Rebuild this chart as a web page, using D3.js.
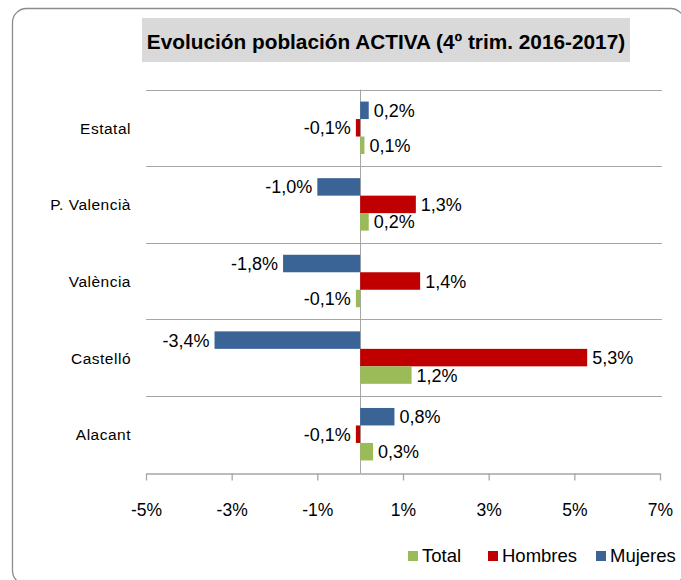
<!DOCTYPE html>
<html>
<head>
<meta charset="utf-8">
<script src="https://cdn.jsdelivr.net/npm/d3@7"></script>
<style>
  body { margin: 0; background: #fff; }
  svg { display: block; font-family: "Liberation Sans Narrow", "Liberation Sans", Arial, sans-serif; }
</style>
</head>
<body>
<div id="chart"></div>
<script>
// chart data
const CATEGORIES = ["Estatal", "P. Valencià", "València", "Castelló", "Alacant"];
const SERIES = ["Mujeres", "Hombres", "Total"];
const MUJERES = [0.2, -1.0, -1.8, -3.4, 0.8];
const HOMBRES = [-0.1, 1.3, 1.4, 5.3, -0.1];
const TOTAL = [0.1, 0.2, -0.1, 1.2, 0.3];
const TICKS = [-5, -3, -1, 1, 3, 5, 7];
const LEGEND_ORDER = ["Total", "Hombres", "Mujeres"];

const VALUES = { Mujeres: MUJERES, Hombres: HOMBRES, Total: TOTAL };

// frame constants
const FRAME_WIDTH = 681;
const FRAME_HEIGHT = 580;
const MARGINS = {left: 146, right: 21, top: 89.5, bottom: 107.5};
const VIS_WIDTH = FRAME_WIDTH - MARGINS.left - MARGINS.right;
const VIS_HEIGHT = FRAME_HEIGHT - MARGINS.top - MARGINS.bottom;

const COLORS = d3.scaleOrdinal()
  .domain(SERIES)
  .range(["#3a6496", "#c00000", "#9bbb59"]);

const FRAME = d3.select("#chart")
  .append("svg")
  .attr("width", FRAME_WIDTH)
  .attr("height", FRAME_HEIGHT);

// outer border (rounded, clipped at bottom right)
FRAME.append("rect")
  .attr("x", 12.5).attr("y", 8.5)
  .attr("width", 672).attr("height", 576)
  .attr("rx", 14)
  .attr("fill", "none")
  .attr("stroke", "#8c8c8c")
  .attr("stroke-width", 1.3);

// title
FRAME.append("rect")
  .attr("x", 142).attr("y", 18)
  .attr("width", 488).attr("height", 44)
  .attr("fill", "#d9d9d9");
FRAME.append("text")
  .attr("x", 386).attr("y", 49)
  .attr("text-anchor", "middle")
  .attr("font-size", "20.8px")
  .attr("font-weight", "bold")
  .attr("fill", "#000")
  .text("Evolución población ACTIVA (4º trim. 2016-2017)");

const X_SCALE = d3.scaleLinear()
  .domain([-5, 7])
  .range([MARGINS.left, MARGINS.left + VIS_WIDTH]);

const Y_SCALE = d3.scaleBand()
  .domain(CATEGORIES)
  .range([MARGINS.top, MARGINS.top + VIS_HEIGHT]);

const Y_INNER = d3.scaleBand()
  .domain(SERIES)
  .range([0, Y_SCALE.bandwidth()])
  .paddingInner(0)
  .paddingOuter(0.69);

// horizontal separators between categories
FRAME.selectAll(".sep")
  .data(CATEGORIES)
  .enter()
  .append("line")
  .attr("x1", MARGINS.left)
  .attr("x2", MARGINS.left + VIS_WIDTH + 2)
  .attr("y1", (d) => Math.round(Y_SCALE(d)) + 0.5)
  .attr("y2", (d) => Math.round(Y_SCALE(d)) + 0.5)
  .attr("stroke", "#a6a6a6")
  .attr("stroke-width", 1);

// zero line
FRAME.append("line")
  .attr("x1", Math.round(X_SCALE(0)) + 0.5)
  .attr("x2", Math.round(X_SCALE(0)) + 0.5)
  .attr("y1", MARGINS.top)
  .attr("y2", MARGINS.top + VIS_HEIGHT + 1)
  .attr("stroke", "#a6a6a6");

// x axis
const X_AXIS = FRAME.append("g")
  .attr("transform", "translate(0," + (Math.round(MARGINS.top + VIS_HEIGHT) + 0.5) + ")")
  .call(d3.axisBottom(X_SCALE)
    .tickValues(TICKS)
    .tickSize(7)
    .tickPadding(23)
    .tickSizeOuter(0)
    .tickFormat((d) => d + "%"));
X_AXIS.select(".domain").attr("stroke", "#a6a6a6").attr("stroke-width", 1.3);
X_AXIS.selectAll(".tick line").attr("stroke", "#a6a6a6").attr("stroke-width", 1.3);
X_AXIS.selectAll(".tick text")
  .attr("font-size", "17.5px")
  .attr("fill", "#000")
  .attr("font-family", "inherit");

// category labels
FRAME.selectAll(".cat")
  .data(CATEGORIES)
  .enter()
  .append("text")
  .attr("x", 131)
  .attr("y", (d) => Y_SCALE(d) + Y_SCALE.bandwidth() / 2 + 6)
  .attr("text-anchor", "end")
  .attr("font-size", "15.5px")
  .attr("letter-spacing", "0.5px")
  .attr("fill", "#000")
  .text((d) => d);

// bars
const BAR_DATA = [];
CATEGORIES.forEach((c, i) => {
  SERIES.forEach((s) => {
    BAR_DATA.push({cat: c, series: s, value: VALUES[s][i]});
  });
});

FRAME.selectAll(".bar")
  .data(BAR_DATA)
  .enter()
  .append("rect")
  .attr("x", (d) => X_SCALE(Math.min(0, d.value)))
  .attr("y", (d) => Y_SCALE(d.cat) + Y_INNER(d.series))
  .attr("width", (d) => Math.abs(X_SCALE(d.value) - X_SCALE(0)))
  .attr("height", Y_INNER.bandwidth())
  .attr("fill", (d) => COLORS(d.series));

// value labels
FRAME.selectAll(".lbl")
  .data(BAR_DATA)
  .enter()
  .append("text")
  .attr("x", (d) => X_SCALE(d.value) + (d.value < 0 ? -5 : 5))
  .attr("y", (d) => Y_SCALE(d.cat) + Y_INNER(d.series) + Y_INNER.bandwidth() / 2 + 6.5)
  .attr("text-anchor", (d) => d.value < 0 ? "end" : "start")
  .attr("font-size", "18px")
  .attr("fill", "#000")
  .text((d) => d3.format(".1f")(d.value).replace(".", ",").replace("−", "-") + "%");

// legend
const LEGEND_X = {Total: 408, Hombres: 488, Mujeres: 596};
const LEGEND = FRAME.selectAll(".leg")
  .data(LEGEND_ORDER)
  .enter()
  .append("g")
  .attr("transform", (d) => "translate(" + LEGEND_X[d] + ",551)");
LEGEND.append("rect")
  .attr("width", 10).attr("height", 10)
  .attr("fill", (d) => COLORS(d));
LEGEND.append("text")
  .attr("x", 14).attr("y", 11)
  .attr("font-size", "18.5px")
  .attr("fill", "#000")
  .text((d) => d);
</script>
</body>
</html>
